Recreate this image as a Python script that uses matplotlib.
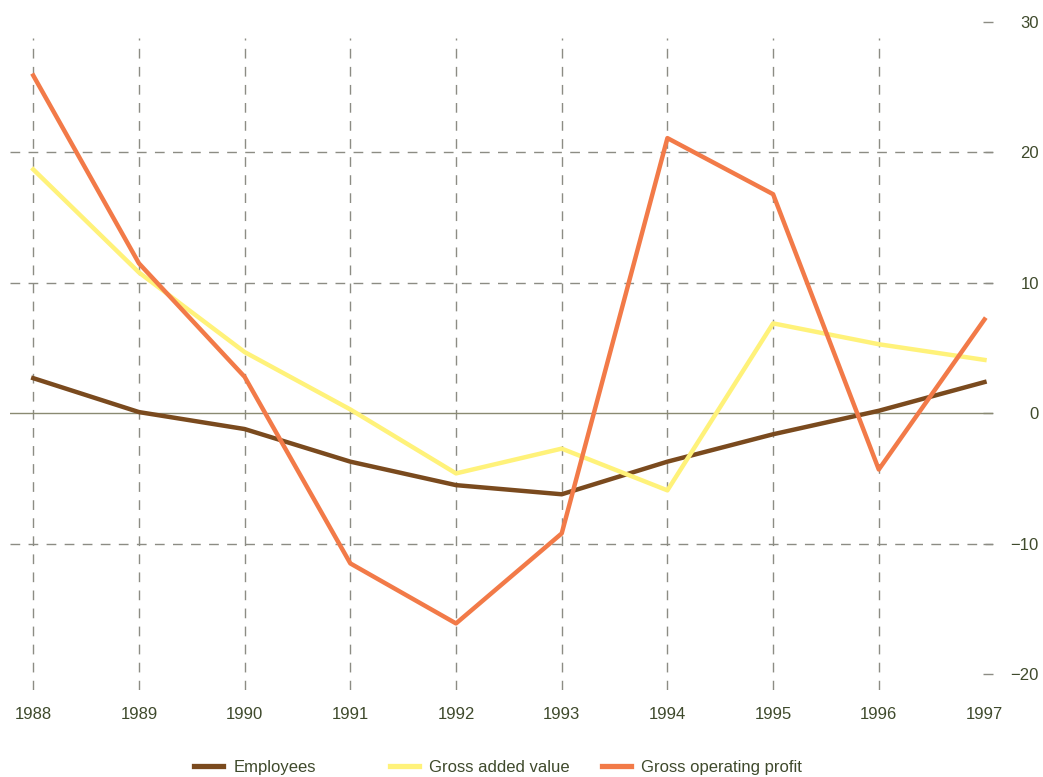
import numpy as np
import matplotlib.pyplot as plt
from matplotlib.lines import Line2D

plt.rcParams['font.family'] = ['Liberation Sans', 'DejaVu Sans']

years = [1988, 1989, 1990, 1991, 1992, 1993, 1994, 1995, 1996, 1997]
employees = [2.7, 0.1, -1.2, -3.7, -5.5, -6.2, -3.7, -1.6, 0.2, 2.4]
gross_added = [18.7, 10.8, 4.7, 0.3, -4.6, -2.7, -5.9, 6.9, 5.3, 4.1]
gross_profit = [25.9, 11.5, 2.8, -11.5, -16.1, -9.2, 21.1, 16.8, -4.3, 7.2]
yticks = [-20, -10, 0, 10, 20, 30]

txt_col = '#3f4a2c'
grid_col = '#8c8c84'
c_emp, c_gav, c_gop = '#7a4a1e', '#fff27a', '#f27a48'

fig = plt.figure(figsize=(10.43, 7.77), dpi=100)
ax = fig.add_axes([0.0096, 0.112, 0.9424, 0.8597])

ax.set_xlim(1987.78, 1997.08)
ax.set_ylim(-21.2, 30)

# vertical dashed grid
ax.vlines(years[:-1], -21.2, 28.8, colors=grid_col, linestyles=(0, (7, 6)), lw=1)
# horizontal dashed grid
for v in [-10, 10, 20]:
    ax.axhline(v, color=grid_col, ls=(0, (7, 6)), lw=1)
ax.axhline(0, color='#8a8a72', lw=1)

ax.plot(years, employees, color=c_emp, lw=3.2)
ax.plot(years, gross_added, color=c_gav, lw=3.2)
ax.plot(years, gross_profit, color=c_gop, lw=3.2)

for s in ax.spines.values():
    s.set_visible(False)

ax.yaxis.tick_right()
ax.set_yticks(yticks)
ax.set_yticklabels([str(v).replace('-', '\u2212') for v in yticks])
ax.tick_params(axis='y', direction='in', length=7, width=1, color=grid_col,
               pad=33, labelsize=12, labelcolor=txt_col)
for lab in ax.get_yticklabels():
    lab.set_horizontalalignment('right')

ax.set_xticks(years)
ax.set_xticklabels([str(y) for y in years])
ax.tick_params(axis='x', length=0, pad=12, labelsize=12, labelcolor=txt_col)

# legend entries placed one by one (uneven spacing like the original)
entries = [('Employees', c_emp, 194), ('Gross added value', c_gav, 390),
           ('Gross operating profit', c_gop, 602)]
for name, col, xpx in entries:
    fig.legend([Line2D([], [], color=col, lw=3.8)], [name], loc='center left',
               bbox_to_anchor=(xpx / 1043, 0.0125), frameon=False, fontsize=12,
               handlelength=1.75, handletextpad=0.6, borderpad=0,
               borderaxespad=0, labelcolor=txt_col)

fig.savefig('out.png', dpi=100)
